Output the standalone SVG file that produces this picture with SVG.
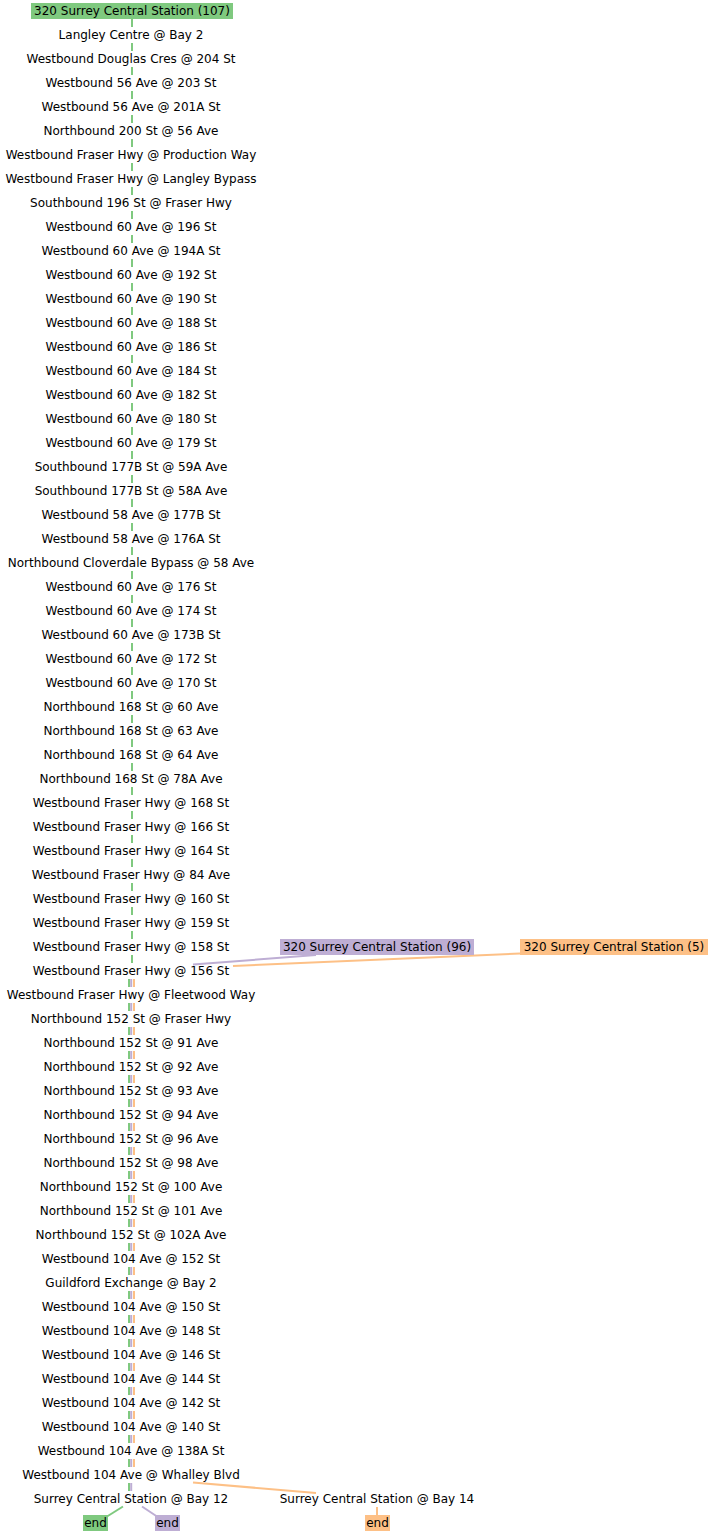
<svg xmlns="http://www.w3.org/2000/svg" width="713" height="1536" viewBox="0 0 713 1536">
<style>
text{font-family:"DejaVu Sans","Liberation Sans",sans-serif;font-size:12px;fill:#000;text-anchor:middle}
.e{fill:none;stroke-width:2}
.g{stroke:#7fc97f}.p{stroke:#beaed4}.o{stroke:#fdc086}
.d{stroke-dasharray:8 16}
</style>
<rect width="713" height="1536" fill="#fff"/>
<g id="connectors">
<path class="e g d" d="M132,19V971"/>
<path class="e g d" d="M129,979V1491"/>
<path class="e p d" d="M131.2,979V1491"/>
<path class="e o d" d="M134,979V1467"/>
<path class="e p" d="M316,955L193,964.5"/>
<path class="e o" d="M520,953.5L233,966"/>
<path class="e o" d="M193,1482.5L316,1493"/>
<path class="e o" d="M377,1507V1515"/>
<path class="e g" d="M123,1506.5L107,1516.5"/>
<path class="e p" d="M142,1506.5L157,1516.5"/>
</g>
<g id="n0"><rect x="31" y="3" width="202" height="16" fill="#7fc97f"/><text x="132" y="15">320 Surrey Central Station (107)</text></g>
<g id="n1"><text x="131" y="39">Langley Centre @ Bay 2</text></g>
<g id="n2"><text x="131" y="63">Westbound Douglas Cres @ 204 St</text></g>
<g id="n3"><text x="131" y="87">Westbound 56 Ave @ 203 St</text></g>
<g id="n4"><text x="131" y="111">Westbound 56 Ave @ 201A St</text></g>
<g id="n5"><text x="131" y="135">Northbound 200 St @ 56 Ave</text></g>
<g id="n6"><text x="131" y="159">Westbound Fraser Hwy @ Production Way</text></g>
<g id="n7"><text x="131" y="183">Westbound Fraser Hwy @ Langley Bypass</text></g>
<g id="n8"><text x="131" y="207">Southbound 196 St @ Fraser Hwy</text></g>
<g id="n9"><text x="131" y="231">Westbound 60 Ave @ 196 St</text></g>
<g id="n10"><text x="131" y="255">Westbound 60 Ave @ 194A St</text></g>
<g id="n11"><text x="131" y="279">Westbound 60 Ave @ 192 St</text></g>
<g id="n12"><text x="131" y="303">Westbound 60 Ave @ 190 St</text></g>
<g id="n13"><text x="131" y="327">Westbound 60 Ave @ 188 St</text></g>
<g id="n14"><text x="131" y="351">Westbound 60 Ave @ 186 St</text></g>
<g id="n15"><text x="131" y="375">Westbound 60 Ave @ 184 St</text></g>
<g id="n16"><text x="131" y="399">Westbound 60 Ave @ 182 St</text></g>
<g id="n17"><text x="131" y="423">Westbound 60 Ave @ 180 St</text></g>
<g id="n18"><text x="131" y="447">Westbound 60 Ave @ 179 St</text></g>
<g id="n19"><text x="131" y="471">Southbound 177B St @ 59A Ave</text></g>
<g id="n20"><text x="131" y="495">Southbound 177B St @ 58A Ave</text></g>
<g id="n21"><text x="131" y="519">Westbound 58 Ave @ 177B St</text></g>
<g id="n22"><text x="131" y="543">Westbound 58 Ave @ 176A St</text></g>
<g id="n23"><text x="131" y="567">Northbound Cloverdale Bypass @ 58 Ave</text></g>
<g id="n24"><text x="131" y="591">Westbound 60 Ave @ 176 St</text></g>
<g id="n25"><text x="131" y="615">Westbound 60 Ave @ 174 St</text></g>
<g id="n26"><text x="131" y="639">Westbound 60 Ave @ 173B St</text></g>
<g id="n27"><text x="131" y="663">Westbound 60 Ave @ 172 St</text></g>
<g id="n28"><text x="131" y="687">Westbound 60 Ave @ 170 St</text></g>
<g id="n29"><text x="131" y="711">Northbound 168 St @ 60 Ave</text></g>
<g id="n30"><text x="131" y="735">Northbound 168 St @ 63 Ave</text></g>
<g id="n31"><text x="131" y="759">Northbound 168 St @ 64 Ave</text></g>
<g id="n32"><text x="131" y="783">Northbound 168 St @ 78A Ave</text></g>
<g id="n33"><text x="131" y="807">Westbound Fraser Hwy @ 168 St</text></g>
<g id="n34"><text x="131" y="831">Westbound Fraser Hwy @ 166 St</text></g>
<g id="n35"><text x="131" y="855">Westbound Fraser Hwy @ 164 St</text></g>
<g id="n36"><text x="131" y="879">Westbound Fraser Hwy @ 84 Ave</text></g>
<g id="n37"><text x="131" y="903">Westbound Fraser Hwy @ 160 St</text></g>
<g id="n38"><text x="131" y="927">Westbound Fraser Hwy @ 159 St</text></g>
<g id="n39"><text x="131" y="951">Westbound Fraser Hwy @ 158 St</text></g>
<g id="n40"><text x="131" y="975">Westbound Fraser Hwy @ 156 St</text></g>
<g id="n41"><text x="131" y="999">Westbound Fraser Hwy @ Fleetwood Way</text></g>
<g id="n42"><text x="131" y="1023">Northbound 152 St @ Fraser Hwy</text></g>
<g id="n43"><text x="131" y="1047">Northbound 152 St @ 91 Ave</text></g>
<g id="n44"><text x="131" y="1071">Northbound 152 St @ 92 Ave</text></g>
<g id="n45"><text x="131" y="1095">Northbound 152 St @ 93 Ave</text></g>
<g id="n46"><text x="131" y="1119">Northbound 152 St @ 94 Ave</text></g>
<g id="n47"><text x="131" y="1143">Northbound 152 St @ 96 Ave</text></g>
<g id="n48"><text x="131" y="1167">Northbound 152 St @ 98 Ave</text></g>
<g id="n49"><text x="131" y="1191">Northbound 152 St @ 100 Ave</text></g>
<g id="n50"><text x="131" y="1215">Northbound 152 St @ 101 Ave</text></g>
<g id="n51"><text x="131" y="1239">Northbound 152 St @ 102A Ave</text></g>
<g id="n52"><text x="131" y="1263">Westbound 104 Ave @ 152 St</text></g>
<g id="n53"><text x="131" y="1287">Guildford Exchange @ Bay 2</text></g>
<g id="n54"><text x="131" y="1311">Westbound 104 Ave @ 150 St</text></g>
<g id="n55"><text x="131" y="1335">Westbound 104 Ave @ 148 St</text></g>
<g id="n56"><text x="131" y="1359">Westbound 104 Ave @ 146 St</text></g>
<g id="n57"><text x="131" y="1383">Westbound 104 Ave @ 144 St</text></g>
<g id="n58"><text x="131" y="1407">Westbound 104 Ave @ 142 St</text></g>
<g id="n59"><text x="131" y="1431">Westbound 104 Ave @ 140 St</text></g>
<g id="n60"><text x="131" y="1455">Westbound 104 Ave @ 138A St</text></g>
<g id="n61"><text x="131" y="1479">Westbound 104 Ave @ Whalley Blvd</text></g>
<g id="n62"><text x="131" y="1503">Surrey Central Station @ Bay 12</text></g>
<g id="n63"><rect x="280" y="939" width="194" height="16" fill="#beaed4"/><text x="377" y="951">320 Surrey Central Station (96)</text></g>
<g id="n64"><rect x="520" y="939" width="188" height="16" fill="#fdc086"/><text x="614" y="951">320 Surrey Central Station (5)</text></g>
<g id="n65"><text x="377" y="1503">Surrey Central Station @ Bay 14</text></g>
<g id="end-green"><rect x="83" y="1515" width="25" height="16" fill="#7fc97f"/><text x="95.5" y="1527">end</text></g>
<g id="end-purple"><rect x="155" y="1515" width="25" height="16" fill="#beaed4"/><text x="167.5" y="1527">end</text></g>
<g id="end-orange"><rect x="365" y="1515" width="25" height="16" fill="#fdc086"/><text x="377.5" y="1527">end</text></g>
</svg>
